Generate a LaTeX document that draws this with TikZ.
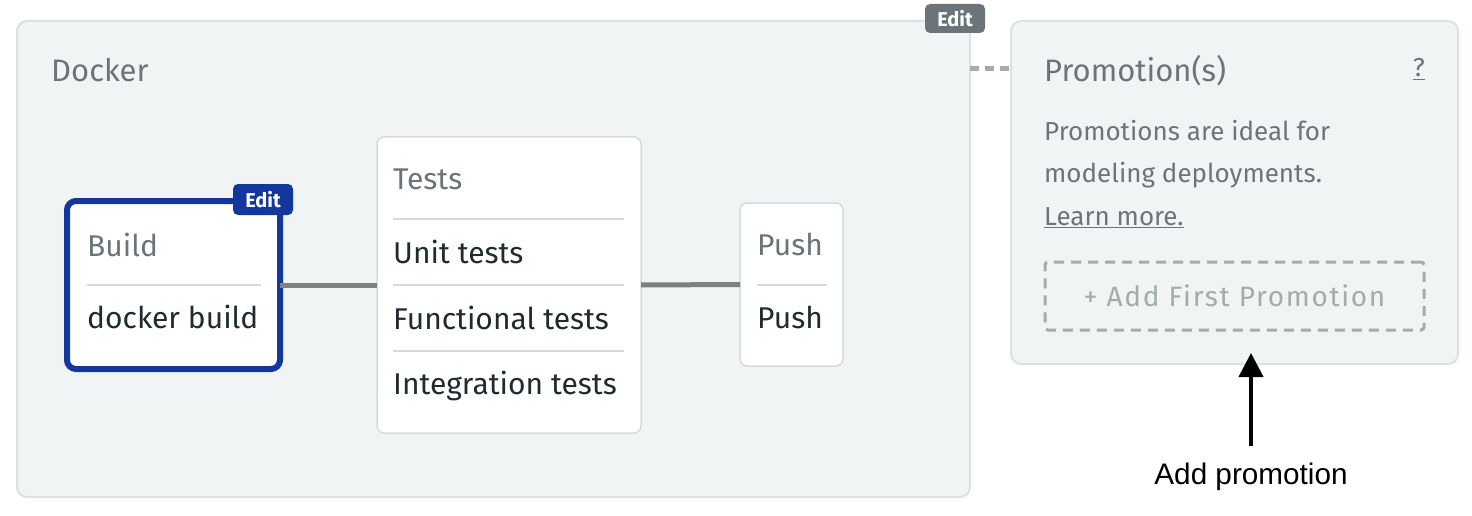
\documentclass[tikz,border=0pt]{standalone}
\usepackage{fontspec}
\usepackage{xcolor}
\usepackage{tikz}
\usetikzlibrary{arrows.meta}
\setmainfont{Fira Sans}
\newfontfamily\labelfont{Liberation Sans}
\definecolor{panelbg}{RGB}{241, 244, 245}
\definecolor{panelline}{RGB}{221, 225, 227}
\definecolor{titlegray}{RGB}{107, 116, 120}
\definecolor{inktext}{RGB}{31, 43, 46}
\definecolor{blockblue}{RGB}{20, 55, 155}
\definecolor{cardline}{RGB}{214, 218, 220}
\definecolor{wire}{RGB}{128, 128, 128}
\definecolor{hintgray}{RGB}{163, 171, 171}

\begin{document}
\begin{tikzpicture}[x=1pt,y=-1pt,
  panel/.style={draw=panelline,line width=2pt,fill=panelbg,rounded corners=10pt,inner sep=0pt,outer sep=0pt,anchor=north west},
  card/.style={draw=cardline,line width=1.5pt,fill=white,rounded corners=7pt,inner sep=0pt,outer sep=0pt,anchor=north west},
  badge/.style={text=white,rounded corners=5pt,inner sep=0pt,outer sep=0pt,minimum width=60pt,font=\fontsize{20}{20}\selectfont\bfseries,anchor=north west},
  heading/.style={anchor=base west,inner sep=0pt,text=titlegray,font=\fontsize{31}{31}\selectfont},
  jobtitle/.style={anchor=base west,inner sep=0pt,text=titlegray,font=\fontsize{30}{30}\selectfont},
  jobline/.style={anchor=base west,inner sep=0pt,text=inktext,font=\fontsize{30}{30}\selectfont},
  note/.style={anchor=base west,inner sep=0pt,text=titlegray,font=\fontsize{26}{26}\selectfont},
  divider/.style={draw=cardline,line width=2pt},
  link/.style={draw=wire,line width=5pt}]
  \useasboundingbox (0,0) rectangle (1472,516);

  % Docker block
  \node[panel,minimum width=953pt,minimum height=476pt] (docker) at (17,21) {};
  \node[heading] (dockertitle) at (51,82) {Docker};
  \node[badge,fill=titlegray,minimum height=29pt] (dockeredit) at (925,4) {Edit};

  % Build job
  \node[card,draw=blockblue,line width=6pt,rounded corners=9pt,minimum width=213pt,minimum height=168pt] (build) at (67,201) {};
  \node[jobtitle] (buildtitle) at (87,256) {Build};
  \draw[divider] (87,285) -- (261,285);
  \node[jobline] (buildcmd) at (87,328) {docker build};
  \node[badge,fill=blockblue,minimum height=31pt] (buildedit) at (233,184) {Edit};

  % Tests job
  \node[card,minimum width=264pt,minimum height=296pt] (tests) at (377,137) {};
  \node[jobtitle] (teststitle) at (393,189) {Tests};
  \draw[divider] (393,219) -- (624,219);
  \node[jobline] (unit) at (393,263) {Unit tests};
  \draw[divider] (393,285) -- (624,285);
  \node[jobline] (functional) at (393,329) {Functional tests};
  \draw[divider] (393,351) -- (624,351);
  \node[jobline] (integration) at (393,394) {Integration tests};

  % Push job
  \node[card,minimum width=103pt,minimum height=163pt] (push) at (740,203) {};
  \node[jobtitle] (pushtitle) at (757,255) {Push};
  \draw[divider] (757,285) -- (827,285);
  \node[jobline] (pushcmd) at (757,328) {Push};

  \draw[link] (build.east) -- (tests.west);
  \draw[link] (tests.east) -- (push.west);

  % Promotions
  \node[panel,minimum width=447pt,minimum height=343pt] (promo) at (1011,21) {};
  \node[heading] (promotitle) at (1044,82) {Promotion(s)};
  \node[note,anchor=base east] (help) at (1425,77) {\underline{?}};
  \node[note] (promoline1) at (1044,141) {Promotions are ideal for};
  \node[note] (promoline2) at (1044,182) {modeling deployments.};
  \node[note] (learnmore) at (1044,225) {\underline{Learn more.}};
  \node[draw=hintgray,line width=3pt,dash pattern=on 10pt off 7pt,rounded corners=3pt,
        minimum width=379pt,minimum height=68pt,inner sep=0pt,outer sep=0pt,anchor=north west,
        text=hintgray,font=\fontsize{28}{28}\selectfont\addfontfeature{LetterSpace=6}] (addfirst) at (1045,262) {+ Add First Promotion};

  \coordinate (dashrow) at (990,69);
  \draw[draw=hintgray,line width=5pt,dash pattern=on 9pt off 6pt] (docker.east |- dashrow) -- (promo.west |- dashrow);

  % pointer
  \node[anchor=base,inner sep=0pt,font=\labelfont\fontsize{29.7}{30}\selectfont] (addlabel) at (1251,484) {Add promotion};
  \coordinate (tip) at (1251,353);
  \draw[line width=4pt,-{Triangle[length=24pt,width=24pt]}] ([yshift=16pt]addlabel.north) -- (tip);
\end{tikzpicture}
\end{document}
